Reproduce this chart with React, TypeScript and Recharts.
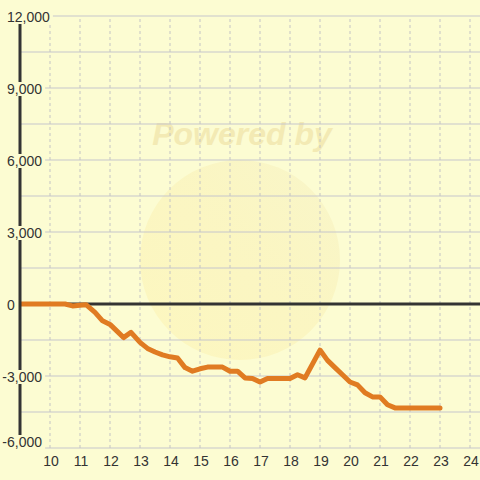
import React from "react";
import { LineChart, Line, XAxis, YAxis, CartesianGrid, ReferenceLine } from "recharts";

const hours = [9, 10.5, 10.75, 11.0, 11.2, 11.5, 11.75, 12.0, 12.25, 12.45, 12.7, 13.0, 13.25, 13.5, 13.75, 14.0, 14.25, 14.5, 14.75, 15.0, 15.25, 15.75, 16.0, 16.25, 16.5, 16.75, 17.0, 17.25, 18.0, 18.25, 18.5, 19.0, 19.25, 19.5, 19.75, 20.0, 20.25, 20.5, 20.75, 21.0, 21.25, 21.5, 23.0];
const values = [0, 0, -80, -50, -30, -350, -700, -850, -1150, -1400, -1180, -1600, -1850, -2000, -2120, -2200, -2250, -2650, -2800, -2700, -2630, -2630, -2800, -2800, -3080, -3100, -3250, -3100, -3100, -2950, -3080, -1920, -2350, -2650, -2950, -3250, -3370, -3700, -3870, -3870, -4200, -4330, -4330];
const xTicks = [10, 11, 12, 13, 14, 15, 16, 17, 18, 19, 20, 21, 22, 23, 24];
const yTicks = [-6000, -4500, -3000, -1500, 0, 1500, 3000, 4500, 6000, 7500, 9000, 10500, 12000];
const yLabelStep = 3000;

const data = hours.map((h, i) => ({ h, v: values[i] }));

const BG = "#fcfcd2";
const FONT = "'Liberation Sans', Arial, sans-serif";

const fmt = (n: number) => n.toLocaleString("en-US");

function textWidth(s: string) {
  let w = 0;
  for (const c of s) {
    if (c === ",") w += 3.9;
    else if (c === "-") w += 4.7;
    else w += 7.8;
  }
  return w;
}

const YTick = (props: any) => {
  const { y, payload } = props;
  const v = payload.value as number;
  if (v % yLabelStep !== 0) return <g />;
  const label = fmt(v);
  const neg = v < 0;
  const x0 = neg ? 2.3 : 7;
  const cy = v === -6000 ? y - 6 : y + 1;
  const w = textWidth(label);
  return (
    <g>
      <rect x={x0 - 2} y={cy - 7} width={w + 5} height={14} fill={BG} />
      <text x={x0} y={cy + 5} textAnchor="start" fontSize={14} fontFamily={FONT} fill="#333">
        {label}
      </text>
    </g>
  );
};

const XTick = (props: any) => {
  const { x, payload } = props;
  return (
    <text x={x + 1} y={466} textAnchor="middle" fontSize={14} fontFamily={FONT} fill="#333">
      {payload.value}
    </text>
  );
};

export default function App() {
  return (
    <div style={{ position: "absolute", left: 0, top: 0, width: 480, height: 480, background: BG, overflow: "hidden" }}>
      <svg width={480} height={480} style={{ position: "absolute", left: 0, top: 0 }}>
        <defs>
          <linearGradient id="wm" x1="0" y1="1" x2="1" y2="0">
            <stop offset="0%" stopColor="#fdf3b0" stopOpacity={0.55} />
            <stop offset="60%" stopColor="#f9eeb0" stopOpacity={0.45} />
            <stop offset="100%" stopColor="#f2eab8" stopOpacity={0.35} />
          </linearGradient>
        </defs>
        <circle cx={240} cy={260} r={100} fill="url(#wm)" />
        <text x={242} y={145} textAnchor="middle" fontSize={32} fontWeight="bold" fontStyle="italic" fontFamily={FONT} fill="#f3eab4">
          Powered by
        </text>
      </svg>
      <div style={{ position: "absolute", left: 0, top: 0 }}>
        <LineChart width={480} height={480} data={data} margin={{ top: 16, right: 0, left: 0, bottom: 0 }}>
          <CartesianGrid vertical={false} stroke="#c6c6cc" />
          <XAxis
            type="number"
            dataKey="h"
            domain={[9, 9 + 460 / 30]}
            ticks={xTicks}
            allowDataOverflow
            axisLine={false}
            tickLine={false}
            height={32}
            tick={<XTick />}
            interval={0}
          />
          <YAxis
            type="number"
            domain={[-6000, 12000]}
            ticks={yTicks}
            width={20}
            axisLine={{ stroke: "#333", strokeWidth: 3 }}
            tickLine={false}
            tick={<YTick />}
            interval={0}
            allowDataOverflow
          />
          {xTicks.map((t) => (
            <ReferenceLine key={t} x={t} stroke="#c4c4c4" strokeDasharray="3 3" />
          ))}
          <ReferenceLine y={0} stroke="#333" strokeWidth={3} />
          <Line
            type="linear"
            dataKey="v"
            stroke="#e07b22"
            strokeWidth={5}
            dot={false}
            strokeLinejoin="round"
            strokeLinecap="round"
            isAnimationActive={false}
          />
        </LineChart>
      </div>
    </div>
  );
}
